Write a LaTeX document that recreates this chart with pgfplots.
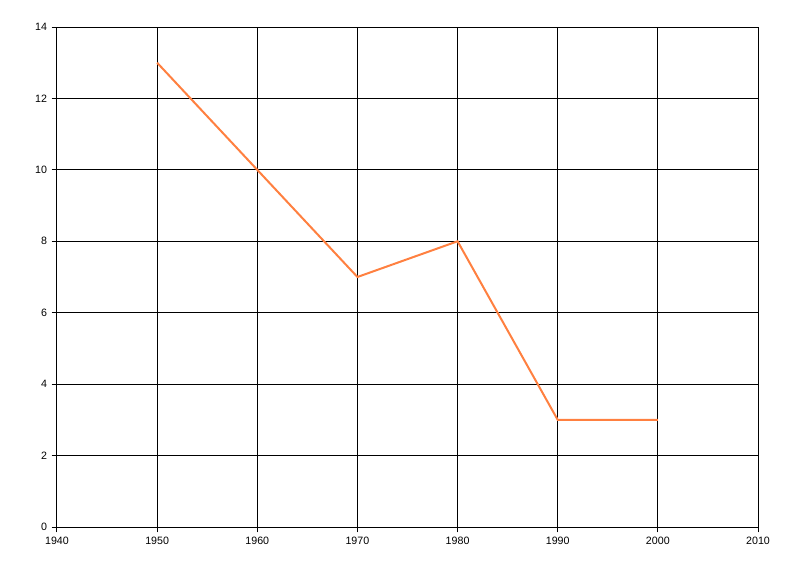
\documentclass[border=0pt]{standalone}
\usepackage{pgfplots}
\pgfplotsset{compat=1.18}
\usepackage{fontspec}
\setmainfont{Liberation Sans}
\definecolor{lineorange}{RGB}{255,128,64}
\begin{document}
\begin{tikzpicture}
    \useasboundingbox (-42.75pt,-36.75pt) rectangle (557.25pt,395.25pt);
    \begin{axis}[
            scale only axis,
            width=525.75pt,
            height=375pt,
            at={(0,0)},
            anchor=south west,
            xmin=1940, xmax=2010,
            ymin=0, ymax=14,
            xtick={1940,1950,...,2010},
            ytick={0,2,...,14},
            grid=major,
            major grid style={black, line width=0.75pt},
            axis line style={black, line width=0.75pt},
            axis lines*=left,
            tick align=outside,
            tick pos=left,
            major tick length=4pt,
            tick style={black, line width=0.75pt},
            xticklabel style={/pgf/number format/1000 sep={}},
            /pgf/number format/assume math mode=true,
            tick label style={font=\fontsize{8}{9}\selectfont, black},
            clip=false,
        ]
        \addplot[lineorange, line width=1.5pt, line join=miter] coordinates {
            (1950,13) (1960,10) (1970,7) (1980,8) (1990,3) (2000,3)
        };
    \end{axis}
\end{tikzpicture}
\end{document}
